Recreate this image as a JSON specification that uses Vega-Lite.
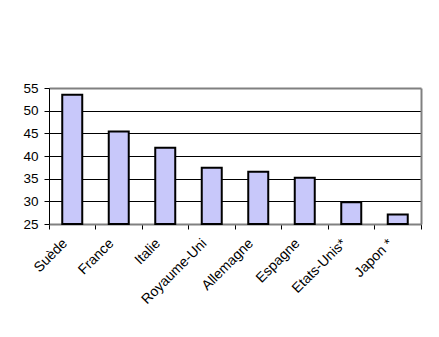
{
  "$schema": "https://vega.github.io/schema/vega-lite/v6.json",
  "width": 372,
  "height": 136,
  "autosize": "none",
  "padding": {"left": 49, "top": 88, "right": 18, "bottom": 113},
  "background": "white",
  "data": {
    "values": [
      {"pays": "Suède", "valeur": 53.5},
      {"pays": "France", "valeur": 45.4},
      {"pays": "Italie", "valeur": 41.8},
      {"pays": "Royaume-Uni", "valeur": 37.4},
      {"pays": "Allemagne", "valeur": 36.5},
      {"pays": "Espagne", "valeur": 35.2},
      {"pays": "Etats-Unis*", "valeur": 29.8},
      {"pays": "Japon *", "valeur": 27.1}
    ]
  },
  "encoding": {
    "x": {
      "field": "pays",
      "type": "nominal",
      "sort": null,
      "title": null,
      "scale": {"paddingInner": 0, "paddingOuter": 0},
      "axis": {
        "bandPosition": 1,
        "tickExtra": true,
        "labelAngle": -45,
        "labelAlign": "right",
        "labelBaseline": "middle",
        "labelFont": "Liberation Sans",
        "labelFontSize": 14,
        "labelColor": "black",
        "labelPadding": 12,
        "labelOffset": -7,
        "domainColor": "#808080",
        "domainWidth": 2,
        "tickColor": "black",
        "tickSize": 5,
        "grid": false
      }
    }
  },
  "layer": [
    {
      "mark": {"type": "bar", "fill": "#c8c8fa", "stroke": "black", "strokeWidth": 2, "width": {"band": 0.43}},
      "encoding": {
        "y": {
          "field": "valeur",
          "type": "quantitative",
          "title": null,
          "scale": {"domain": [25, 55], "nice": false, "zero": false},
          "axis": {
            "values": [25, 30, 35, 40, 45, 50, 55],
            "labelFont": "Liberation Sans",
            "labelFontSize": 13.5,
            "labelColor": "black",
            "labelPadding": 6,
            "tickSize": 5,
            "tickColor": "black",
            "domainColor": "black",
            "grid": true,
            "gridColor": {"condition": {"test": "datum.value == 55 || datum.value == 25", "value": "#808080"}, "value": "black"},
            "gridWidth": {"condition": {"test": "datum.value == 55", "value": 2}, "value": 1},
            "gridOpacity": 1
          }
        },
        "y2": {"datum": 25}
      }
    },
    {
      "mark": {"type": "bar", "opacity": 0, "width": {"band": 0.43}},
      "encoding": {
        "y": {
          "field": "valeur",
          "type": "quantitative",
          "title": null,
          "scale": {"domain": [25, 55], "nice": false, "zero": false},
          "axis": {
            "orient": "right",
            "labels": false,
            "ticks": false,
            "grid": false,
            "domainColor": "#808080",
            "domainWidth": 2
          }
        },
        "y2": {"datum": 25}
      }
    }
  ],
  "resolve": {"axis": {"y": "independent"}},
  "config": {"view": {"stroke": null}}
}
